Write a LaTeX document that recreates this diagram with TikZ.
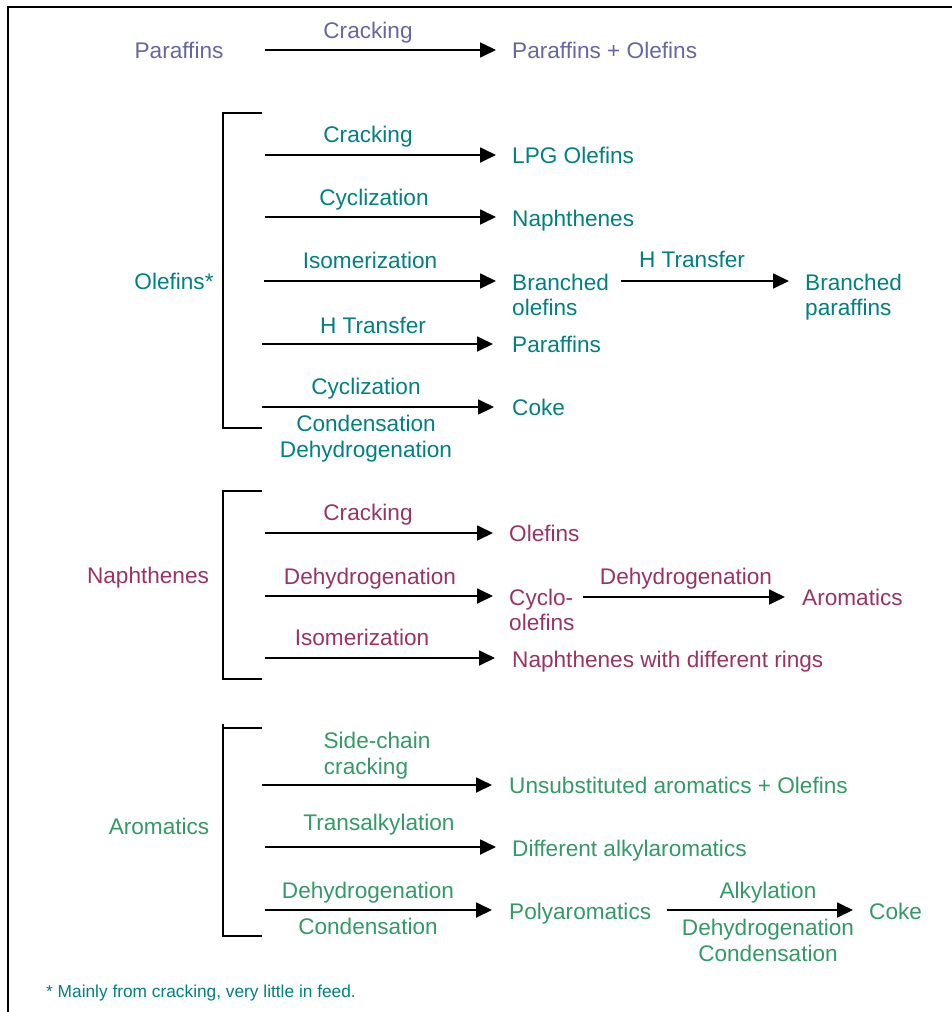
\documentclass[tikz,border=0pt]{standalone}
\usepackage{fontspec}
\setmainfont{Liberation Sans}
\usetikzlibrary{arrows.meta}
\definecolor{cP}{RGB}{102,102,160}
\definecolor{cO}{RGB}{0,128,128}
\definecolor{cN}{RGB}{153,51,102}
\definecolor{cA}{RGB}{51,153,102}
\begin{document}
\begin{tikzpicture}[x=1pt,y=-1pt,
  txt/.style={inner sep=0pt,text height=16pt,text depth=0pt,font=\fontsize{22.6}{26}\selectfont},
  tl/.style={txt,anchor=west},
  arr/.style={-{Triangle[length=16pt,width=15pt]},line width=1.8pt,shorten >=16pt},
  brk/.style={line width=1.8pt},
  frame/.style={line width=2pt}]
\useasboundingbox (0,0) rectangle (951,1012);
\draw[frame] (8,1014) -- (8,7) -- (953,7);

% Paraffins
\node[txt,cP] (par) at (179,50) {Paraffins};
\coordinate (p1) at (265,50);
\node[tl,cP] (po) at (512,50) {Paraffins + Olefins};
\draw[arr] (p1) -- (po.west);
\node[txt,cP] (lp1) at (368,30) {Cracking};

% Olefins
\draw[brk] (262,113) -- (223,113) -- (223,428) -- (262,428);
\node[txt,cO] (ol) at (174,281) {Olefins*};

\coordinate (o1) at (265,155);
\node[tl,cO] (lpg) at (512,155) {LPG Olefins};
\draw[arr] (o1) -- (lpg.west);
\node[txt,cO] (lo1) at (368,134) {Cracking};

\coordinate (o2) at (265,217);
\node[tl,cO] (nap) at (512,218) {Naphthenes};
\draw[arr] (o2) -- (nap.west |- o2);
\node[txt,cO] (lo2) at (374,197) {Cyclization};

\coordinate (o3) at (264,281);
\node[tl,cO] (bol) at (512,282) {Branched};
\node[tl,cO] (bol2) at (512,307) {olefins};
\draw[arr] (o3) -- (bol.west |- o3);
\node[txt,cO] (lo3) at (370,260) {Isomerization};
\node[tl,cO] (bpa) at (805,282) {Branched};
\node[tl,cO] (bpa2) at (805,307) {paraffins};
\coordinate (o3b) at (621,281);
\draw[arr] (o3b) -- (bpa.west |- o3b);
\node[txt,cO] (lo3b) at (692,259) {H Transfer};

\coordinate (o4) at (262,344);
\node[tl,cO] (opa) at (512,344) {Paraffins};
\draw[arr,shorten >=19pt] (o4) -- (opa.west |- o4);
\node[txt,cO] (lo4) at (373,325) {H Transfer};

\coordinate (o5) at (262,407);
\node[tl,cO] (coke1) at (512,407) {Coke};
\draw[arr,shorten >=18pt] (o5) -- (coke1.west |- o5);
\node[txt,cO] (lo5) at (366,386) {Cyclization};
\node[txt,cO] (lo5b) at (366,423) {Condensation};
\node[txt,cO] (lo5c) at (366,449) {Dehydrogenation};

% Naphthenes
\draw[brk] (262,491) -- (223,491) -- (223,679) -- (262,679);
\node[txt,cN] (na) at (148,575) {Naphthenes};

\coordinate (n1) at (265,533);
\node[tl,cN] (nol) at (509,533) {Olefins};
\draw[arr] (n1) -- (nol.west |- n1);
\node[txt,cN] (ln1) at (368,512) {Cracking};

\coordinate (n2) at (265,596);
\node[tl,cN] (cyc) at (509,597) {Cyclo-};
\node[tl,cN] (cyc2) at (509,622) {olefins};
\draw[arr] (n2) -- (cyc.west |- n2);
\node[txt,cN] (ln2) at (370,576) {Dehydrogenation};
\coordinate (n2b) at (583,597);
\node[tl,cN] (aro) at (802,597) {Aromatics};
\draw[arr,shorten >=17pt] (n2b) -- (aro.west |- n2b);
\node[txt,cN] (ln2b) at (686,576) {Dehydrogenation};

\coordinate (n3) at (265,658);
\node[tl,cN] (ndr) at (512,659) {Naphthenes with different rings};
\draw[arr,shorten >=17pt] (n3) -- (ndr.west |- n3);
\node[txt,cN] (ln3) at (362,637) {Isomerization};

% Aromatics
\draw[brk] (223,724) -- (223,936) -- (262,936);
\draw[brk] (223,728) -- (262,728);
\node[txt,cA] (ar) at (159,826) {Aromatics};

\coordinate (a1) at (262,785);
\node[tl,cA] (uns) at (509,785) {Unsubstituted aromatics + Olefins};
\draw[arr,shorten >=17pt] (a1) -- (uns.west |- a1);
\node[txt,cA] (la1) at (377,740) {Side-chain};
\node[txt,cA] (la1b) at (366,766) {cracking};

\coordinate (a2) at (265,847);
\node[tl,cA] (dif) at (512,848) {Different alkylaromatics};
\draw[arr] (a2) -- (dif.west |- a2);
\node[txt,cA] (la2) at (379,822) {Transalkylation};

\coordinate (a3) at (265,910);
\node[tl,cA] (pol) at (509,911) {Polyaromatics};
\draw[arr,shorten >=17pt] (a3) -- (pol.west |- a3);
\node[txt,cA] (la3) at (368,890) {Dehydrogenation};
\node[txt,cA] (la3b) at (368,926) {Condensation};
\coordinate (a3b) at (667,910);
\node[tl,cA] (coke2) at (869,911) {Coke};
\draw[arr] (a3b) -- (coke2.west |- a3b);
\node[txt,cA] (la3c) at (768,890) {Alkylation};
\node[txt,cA] (la3d) at (768,927) {Dehydrogenation};
\node[txt,cA] (la3e) at (768,953) {Condensation};

% Footnote
\node[inner sep=0pt,anchor=west,text height=12.4pt,text depth=0pt,font=\fontsize{17.3}{20}\selectfont,cO] (fn) at (46,991) {* Mainly from cracking, very little in feed.};
\end{tikzpicture}
\end{document}
